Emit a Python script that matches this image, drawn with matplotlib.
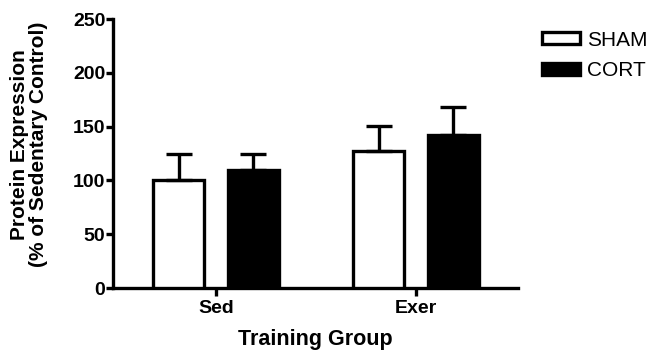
import matplotlib
matplotlib.use("Agg")
import matplotlib.pyplot as plt
import numpy as np

groups = ["Sed", "Exer"]
series = ["SHAM", "CORT"]
sham_mean = [100, 127]
sham_sem = [25, 24]
cort_mean = [110, 142]
cort_sem = [15, 26]
yticks = [0, 50, 100, 150, 200, 250]

plt.rcParams["font.family"] = ["Liberation Sans", "DejaVu Sans"]

fig = plt.figure(figsize=(6.54, 3.53), dpi=100)
ax = fig.add_axes([0.1728, 0.184, 0.6193, 0.762])

x = np.arange(len(groups))
width = 0.255
offset = 0.187
lw = 2.4

err_kw = dict(ecolor="black", elinewidth=lw, capsize=9.5, capthick=lw)

ax.bar(x - offset, sham_mean, width, color="white", edgecolor="black",
       linewidth=lw, yerr=[np.zeros(len(groups)), sham_sem],
       error_kw=err_kw, label=series[0], zorder=3)
ax.bar(x + offset, cort_mean, width, color="black", edgecolor="black",
       linewidth=lw, yerr=[np.zeros(len(groups)), cort_sem],
       error_kw=err_kw, label=series[1], zorder=3)

ax.set_xlim(-0.515, 1.51)
ax.set_ylim(0, 250)
ax.set_yticks(yticks)
ax.set_xticks(x)
ax.set_xticklabels(groups, fontweight="bold", fontsize=14)
ax.set_yticklabels([str(t) for t in yticks], fontweight="bold", fontsize=14)

for side in ["top", "right"]:
    ax.spines[side].set_visible(False)
for side in ["left", "bottom"]:
    ax.spines[side].set_linewidth(lw)
    ax.spines[side].set_capstyle("projecting")

ax.tick_params(axis="y", length=5, width=lw, pad=0.5)
ax.tick_params(axis="x", length=5.5, width=lw, pad=3)

ax.set_ylabel("Protein Expression\n(% of Sedentary Control)", fontweight="bold",
              fontsize=15, linespacing=1.0)
ax.yaxis.set_label_coords(-0.160, 0.535)
ax.set_xlabel("Training Group", fontweight="bold", fontsize=15.5)
ax.xaxis.set_label_coords(0.5, -0.152)

fig.legend(loc="upper left", bbox_to_anchor=(0.829, 0.913), frameon=False,
           fontsize=15, handlelength=1.8, handleheight=0.5,
           handletextpad=0.35, labelspacing=0.55, borderaxespad=0, borderpad=0)

fig.savefig("out.png", dpi=100)
